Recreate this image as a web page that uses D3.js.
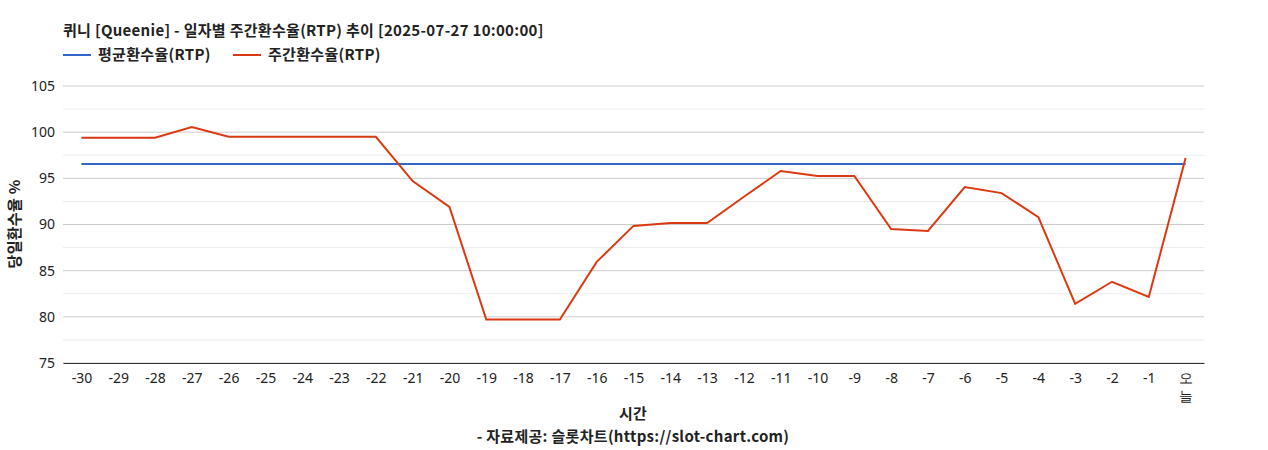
<!DOCTYPE html><html><head><meta charset="utf-8"><script src="https://d3js.org/d3.v7.min.js"></script>
<style>body{margin:0;background:#fff;font-family:"Noto Sans CJK KR","Noto Sans",sans-serif}</style></head><body><svg id="c" width="1268" height="450"></svg><script>
const categories=["-30","-29","-28","-27","-26","-25","-24","-23","-22","-21","-20","-19","-18","-17","-16","-15","-14","-13","-12","-11","-10","-9","-8","-7","-6","-5","-4","-3","-2","-1","오늘"];
const weeklyRTP=[99.4,99.4,99.4,100.55,99.5,99.5,99.5,99.5,99.5,94.7,91.9,79.7,79.7,79.7,85.95,89.85,90.15,90.15,93.0,95.8,95.25,95.25,89.5,89.3,94.05,93.4,90.8,81.4,83.8,82.15,97.2];
const avgRTP=categories.map(()=>96.55);
const yTicks=[75,80,85,90,95,100,105];
const svg=d3.select("#c");
const L=63,R=1204,T=86,B=363;
const x=d3.scalePoint().domain(categories).range([L,R]).padding(0.5);
const y=d3.scaleLinear().domain([75,105]).range([B,T]);
const g=svg.append("g");
d3.range(75,105.1,2.5).forEach(v=>{g.append("line").attr("x1",L).attr("x2",R).attr("y1",y(v)).attr("y2",y(v)).attr("stroke",v%5===0?"#ccc":"#ebebeb").attr("stroke-width",1);});
const ya=svg.append("g").attr("transform",`translate(${L},0)`).call(d3.axisLeft(y).tickValues(yTicks).tickSize(0).tickPadding(8));
ya.select(".domain").remove();ya.selectAll("text").attr("font-size",14).attr("fill","#222").attr("font-family","Noto Sans, sans-serif");
const xa=svg.append("g").attr("transform",`translate(0,${B})`).call(d3.axisBottom(x).tickSize(0).tickPadding(10));
xa.select(".domain").attr("stroke","#333");
xa.selectAll("text").attr("font-size",14).attr("fill","#222").attr("font-family","Noto Sans, sans-serif").each(function(d){if(d==="오늘"){const t=d3.select(this);t.text("");t.append("tspan").attr("x",0).attr("dy","0.71em").text("오");t.append("tspan").attr("x",0).attr("dy","1.3em").text("늘");}});
const line=d3.line().x((d,i)=>x(categories[i])).y(d=>y(d));
svg.append("path").datum(avgRTP).attr("d",line).attr("fill","none").attr("stroke","#3366cc").attr("stroke-width",2);
svg.append("path").datum(weeklyRTP).attr("d",line).attr("fill","none").attr("stroke","#dc3912").attr("stroke-width",2);
const B14=s=>s.attr("font-size",15).attr("font-weight","bold").attr("fill","#222").attr("letter-spacing",0.3);
B14(svg.append("text").attr("x",63).attr("y",36)).text("퀴니 [Queenie] - 일자별 주간환수율(RTP) 추이 [2025-07-27 10:00:00]");
const leg=[["평균환수율(RTP)","#3366cc",63],["주간환수율(RTP)","#dc3912",233]];
leg.forEach(([t,c,lx])=>{svg.append("line").attr("x1",lx).attr("x2",lx+28).attr("y1",55).attr("y2",55).attr("stroke",c).attr("stroke-width",2);
B14(svg.append("text").attr("x",lx+35).attr("y",60)).text(t);});
B14(svg.append("text").attr("transform","translate(20,224) rotate(-90)").attr("text-anchor","middle")).text("당일환수율 %");
B14(svg.append("text").attr("x",633).attr("y",419).attr("text-anchor","middle")).text("시간");
B14(svg.append("text").attr("x",633).attr("y",442).attr("text-anchor","middle")).text("- 자료제공: 슬롯차트(https://slot-chart.com)");
</script></body></html>
